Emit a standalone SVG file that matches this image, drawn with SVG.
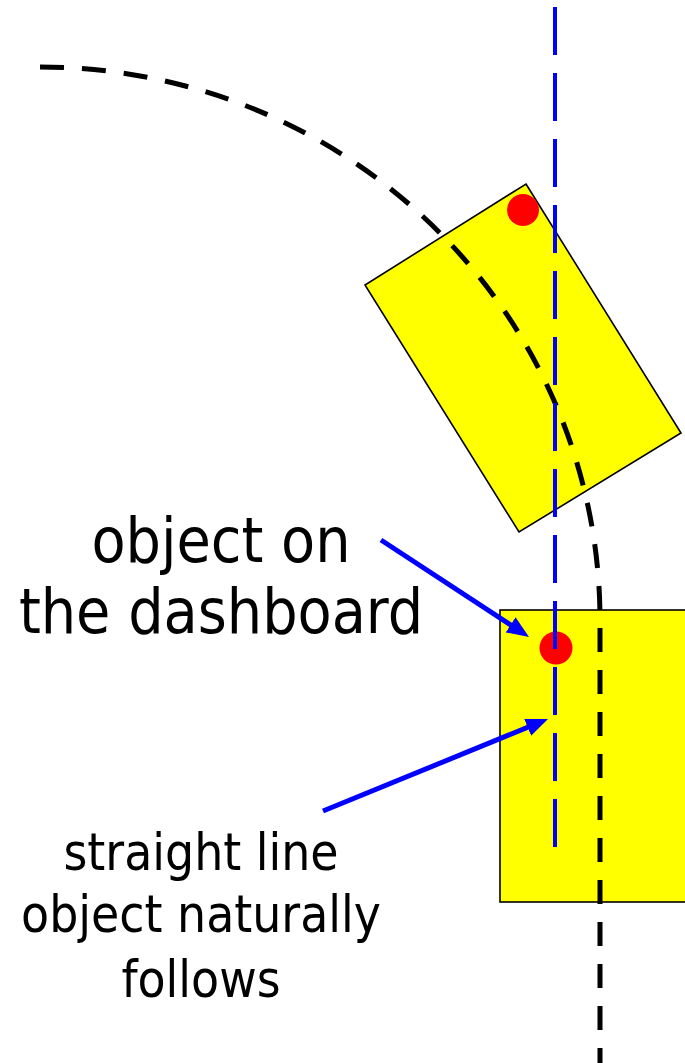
<svg xmlns="http://www.w3.org/2000/svg" width="685" height="1063" viewBox="0 0 685 1063">
<style>
.box{fill:#FFFF00;stroke:#000;stroke-width:1.6}
.dot{fill:#FF0000}
.path{fill:none;stroke:#000;stroke-width:5;stroke-dasharray:24 18}
.blueline{fill:none;stroke:#0000FF;stroke-width:4;stroke-dasharray:48 18}
.arrow{stroke:#0000FF;stroke-width:5;fill:none;marker-end:url(#ah)}
.big{font-family:"DejaVu Sans Condensed","DejaVu Sans",Verdana,sans-serif;font-stretch:condensed;font-size:62px;fill:#000;text-anchor:middle}
.small{font-family:"DejaVu Sans Condensed","DejaVu Sans",Verdana,sans-serif;font-stretch:condensed;font-size:51px;fill:#000;text-anchor:middle}
</style>
<defs>
<marker id="ah" markerUnits="userSpaceOnUse" markerWidth="24" markerHeight="20" refX="13" refY="9" orient="auto">
<path d="M0,0 L22,9 L0,18 z" fill="#0000FF"/>
</marker>
</defs>
<rect width="685" height="1063" fill="#fff"/>
<g id="car-turned">
<polygon class="box" points="526,184 681,433 519,532 365,285"/>
<circle class="dot" cx="523" cy="210" r="16"/>
</g>
<g id="car-straight">
<rect class="box" x="500" y="610" width="190" height="292"/>
<circle class="dot" cx="556" cy="648" r="16.5"/>
</g>
<g id="connectors">
<path id="curve" class="path" d="M40,67 A560,553 0 0 1 600,620 L600,1063"/>
<line id="straight" class="blueline" x1="555" y1="7" x2="555" y2="848"/>
<line class="arrow" x1="381" y1="540" x2="521.5" y2="632"/>
<line class="arrow" x1="323" y1="811" x2="539.7" y2="722.4"/>
</g>
<g id="label-object">
<text class="big" x="221" y="562">object on</text>
<text class="big" x="221" y="633">the dashboard</text>
</g>
<g id="label-line">
<text class="small" x="201" y="870">straight line</text>
<text class="small" x="201" y="932">object naturally</text>
<text class="small" x="201" y="997">follows</text>
</g>
</svg>
